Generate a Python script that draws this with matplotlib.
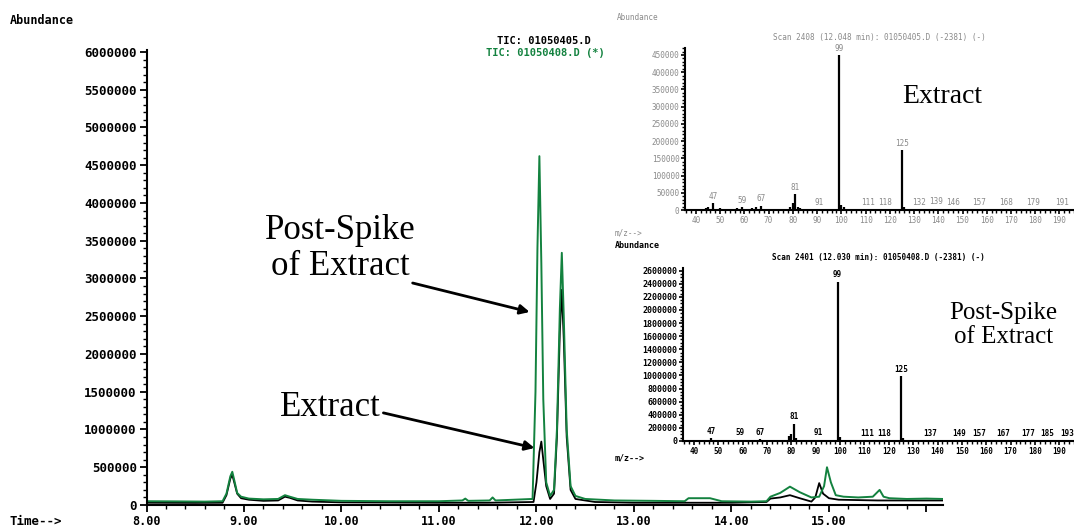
import matplotlib.pyplot as plt
from matplotlib.ticker import MultipleLocator, FixedLocator

# ---- TIC chromatograms (time in min, abundance) ----
spike_t = [8.00, 8.30, 8.60, 8.78, 8.82, 8.86, 8.88, 8.90, 8.93, 8.97, 9.05, 9.20,
           9.35, 9.42, 9.47, 9.55, 9.70, 10.00, 10.50, 11.00, 11.24, 11.27, 11.30,
           11.52, 11.55, 11.58, 11.96, 11.99, 12.01, 12.03, 12.05, 12.07, 12.10,
           12.14, 12.18, 12.21, 12.24, 12.26, 12.28, 12.31, 12.35, 12.40, 12.50,
           12.80, 13.20, 13.52, 13.56, 13.78, 13.90, 14.20, 14.36, 14.40, 14.50,
           14.60, 14.70, 14.82, 14.90, 14.95, 14.98, 15.02, 15.07, 15.15, 15.30,
           15.45, 15.52, 15.56, 15.62, 15.80, 16.00, 16.17]
spike_abund = [50000, 48000, 45000, 50000, 150000, 380000, 440000, 330000, 160000,
               110000, 85000, 75000, 80000, 130000, 110000, 80000, 70000, 55000,
               50000, 50000, 60000, 85000, 55000, 60000, 100000, 60000, 80000,
               1500000, 3400000, 4620000, 3200000, 1400000, 300000, 120000, 200000,
               1000000, 2600000, 3340000, 2500000, 1000000, 250000, 120000, 80000,
               60000, 55000, 50000, 90000, 90000, 50000, 45000, 50000, 110000,
               160000, 243000, 170000, 100000, 110000, 250000, 500000, 300000,
               130000, 110000, 100000, 110000, 200000, 110000, 90000, 80000, 85000,
               80000]

extract_t = [8.00, 8.50, 8.78, 8.82, 8.86, 8.88, 8.90, 8.93, 8.97, 9.05, 9.20, 9.35,
             9.42, 9.47, 9.55, 9.70, 10.00, 11.00, 11.50, 11.97, 12.00, 12.03, 12.05,
             12.07, 12.10, 12.14, 12.18, 12.21, 12.24, 12.26, 12.28, 12.31, 12.35,
             12.40, 12.60, 13.00, 13.50, 14.00, 14.36, 14.40, 14.50, 14.60, 14.70,
             14.82, 14.86, 14.90, 14.94, 15.00, 15.10, 15.30, 15.50, 15.80, 16.17]
extract_abund = [30000, 28000, 30000, 130000, 350000, 400000, 300000, 150000, 90000,
                 70000, 55000, 60000, 110000, 95000, 60000, 45000, 35000, 30000,
                 30000, 40000, 300000, 700000, 840000, 600000, 250000, 80000, 150000,
                 900000, 2300000, 2850000, 2200000, 900000, 200000, 80000, 40000,
                 30000, 30000, 30000, 40000, 85000, 100000, 130000, 90000, 45000,
                 100000, 290000, 150000, 90000, 70000, 65000, 60000, 60000, 60000]

main_yticks = [0, 500000, 1000000, 1500000, 2000000, 2500000, 3000000, 3500000,
               4000000, 4500000, 5000000, 5500000, 6000000]
main_xticks = [8, 9, 10, 11, 12, 13, 14, 15, 16]
main_xlabels = ["8.00", "9.00", "10.00", "11.00", "12.00", "13.00", "14.00", "15.00", ""]

# ---- mass spectra ----
ext_mz = [41, 44, 45, 47, 50, 53, 55, 57, 59, 61, 63, 65, 67, 79, 80, 81, 82, 83, 85,
          87, 91, 99, 100, 101, 111, 118, 125, 126, 132, 139, 146, 157, 168, 179, 191]
ext_int = [3000, 5000, 8000, 20000, 5000, 4000, 4000, 6000, 8000, 4000, 5000, 8000,
           12000, 10000, 20000, 46000, 8000, 5000, 3000, 4000, 3000, 450000, 15000,
           8000, 2000, 2000, 173000, 10000, 2000, 4000, 2000, 1500, 1500, 1500, 1500]
ext_labels = [47, 59, 67, 81, 91, 99, 111, 118, 125, 132, 139, 146, 157, 168, 179, 191]

spk_mz = [45, 47, 50, 55, 59, 63, 67, 79, 80, 81, 82, 83, 87, 91, 99, 100, 101, 111,
          118, 125, 126, 137, 149, 157, 167, 177, 185, 193]
spk_int = [15000, 40000, 10000, 20000, 20000, 15000, 25000, 80000, 110000, 260000,
           50000, 20000, 10000, 15000, 2430000, 60000, 20000, 5000, 5000, 990000,
           50000, 8000, 3000, 3000, 3000, 3000, 3000, 3000]
spk_labels = [47, 59, 67, 81, 91, 99, 111, 118, 125, 137, 149, 157, 167, 177, 185, 193]

spec_xticks = [40, 50, 60, 70, 80, 90, 100, 110, 120, 130, 140, 150, 160, 170, 180, 190]

W, H = 1074, 529
GREEN = "#13823f"
GRAY = "#8a8a8a"
MONO = "DejaVu Sans Mono"
SERIF = "Liberation Serif"


def px_rect(l, t, r, b):
    return [l / W, 1 - b / H, (r - l) / W, (b - t) / H]


fig = plt.figure(figsize=(W / 100, H / 100), dpi=100)
fig.patch.set_facecolor("white")

# ------------------ main chromatogram ------------------
ax = fig.add_axes(px_rect(146.5, 50, 943, 505))
ax.plot(extract_t, extract_abund, color="black", lw=1.3)
ax.plot(spike_t, spike_abund, color=GREEN, lw=1.4)
ax.set_xlim(8.0, 16.17)
ax.set_ylim(0, 6.026e6)
for s in ["top", "right"]:
    ax.spines[s].set_visible(False)
ax.spines["left"].set_linewidth(1.5)
ax.spines["bottom"].set_linewidth(1.5)
ax.set_yticks(main_yticks)
ax.set_yticklabels([str(v) for v in main_yticks], fontfamily=MONO,
                   fontweight="bold", fontsize=9)
ax.yaxis.set_minor_locator(MultipleLocator(100000))
ax.xaxis.set_major_locator(FixedLocator(main_xticks))
ax.set_xticklabels(main_xlabels, fontfamily=MONO, fontweight="bold", fontsize=8.5)
ax.xaxis.set_minor_locator(MultipleLocator(0.2))
ax.tick_params(axis="both", which="major", length=5, width=1.3, pad=2)
ax.tick_params(axis="both", which="minor", length=3, width=1.0)

fig.text(10 / W, 1 - 20 / H, "Abundance", fontfamily=MONO, fontweight="bold",
         fontsize=8.5, va="center", ha="left")
fig.text(10 / W, 1 - 528 / H, "Time-->", fontfamily=MONO, fontweight="bold",
         fontsize=9, va="bottom", ha="left")
fig.text(544 / W, 1 - 41 / H, "TIC: 01050405.D", fontfamily=MONO, fontweight="bold",
         fontsize=7.5, va="center", ha="center", color="black")
fig.text(545 / W, 1 - 53 / H, "TIC: 01050408.D (*)", fontfamily=MONO,
         fontweight="bold", fontsize=7.5, va="center", ha="center", color=GREEN)

# annotations with arrows
ax.text(9.99, 3.40e6, "Post-Spike\nof Extract", fontfamily=SERIF, fontsize=25,
        ha="center", va="center", linespacing=1.1)
ax.annotate("", xy=(11.93, 2.556e6), xytext=(10.73, 2.94e6),
            arrowprops=dict(arrowstyle="-|>", color="black", lw=2,
                            mutation_scale=14, shrinkA=0, shrinkB=0))
ax.text(9.89, 1.285e6, "Extract", fontfamily=SERIF, fontsize=25,
        ha="center", va="center")
ax.annotate("", xy=(11.98, 7.55e5), xytext=(10.43, 1.22e6),
            arrowprops=dict(arrowstyle="-|>", color="black", lw=2,
                            mutation_scale=14, shrinkA=0, shrinkB=0))


def spectrum(rect, mz, inten, labels, ylim, ymajor, yminor, color, bold, title, tsize):
    a = fig.add_axes(rect)
    a.set_facecolor("white")
    a.vlines(mz, 0, inten, color="black", lw=1.6)
    a.set_xlim(35.5, 196)
    a.set_ylim(0, ylim)
    for s in ["top", "right"]:
        a.spines[s].set_visible(False)
    a.spines["left"].set_linewidth(1.5)
    a.spines["bottom"].set_linewidth(1.5)
    weight = "bold" if bold else "normal"
    a.set_xticks(spec_xticks)
    a.set_xticklabels([str(v) for v in spec_xticks], fontfamily=MONO,
                      fontweight=weight, fontsize=5.5, color=color)
    a.xaxis.set_minor_locator(MultipleLocator(2))
    yt = list(range(0, int(ylim), ymajor))
    a.set_yticks(yt)
    a.set_yticklabels([str(v) for v in yt], fontfamily=MONO, fontweight=weight,
                      fontsize=tsize, color=color)
    a.yaxis.set_minor_locator(MultipleLocator(yminor))
    a.tick_params(axis="both", which="major", length=3, width=1.2, pad=1)
    a.tick_params(axis="both", which="minor", length=2, width=1.0)
    lookup = dict(zip(mz, inten))
    for m in labels:
        a.text(m, lookup.get(m, 0) + ylim * 0.015, str(m), fontfamily=MONO,
               fontweight=weight, fontsize=5.5, color=color, ha="center", va="bottom")
    a.set_title(title, fontfamily=MONO, fontweight=weight, fontsize=5.5, color=color,
                pad=6)
    return a


ax_top = spectrum(px_rect(685, 48, 1074, 210), ext_mz, ext_int, ext_labels, 470300,
                  50000, 10000, GRAY, False,
                  "Scan 2408 (12.048 min): 01050405.D (-2381) (-)", 5.5)
ax_top.text(0.66, 0.70, "Extract", transform=ax_top.transAxes, fontfamily=SERIF,
            fontsize=20, ha="center", va="center")
fig.text(617 / W, 1 - 17 / H, "Abundance", fontfamily=MONO, fontsize=5.5,
         color=GRAY, va="center", ha="left")
fig.text(615 / W, 1 - 233 / H, "m/z-->", fontfamily=MONO, fontsize=5.5,
         color=GRAY, va="center", ha="left")

ax_bot = spectrum(px_rect(683, 268, 1074, 441), spk_mz, spk_int, spk_labels, 2.641e6,
                  200000, 50000, "black", True,
                  "Scan 2401 (12.030 min): 01050408.D (-2381) (-)", 6)
ax_bot.text(0.82, 0.67, "Post-Spike\nof Extract", transform=ax_bot.transAxes,
            fontfamily=SERIF, fontsize=18, ha="center", va="center", linespacing=1.1)
fig.text(615 / W, 1 - 245 / H, "Abundance", fontfamily=MONO, fontweight="bold",
         fontsize=6, va="center", ha="left")
fig.text(615 / W, 1 - 458 / H, "m/z-->", fontfamily=MONO, fontweight="bold",
         fontsize=6, va="center", ha="left")

fig.savefig("out.png", dpi=100, facecolor="white")
